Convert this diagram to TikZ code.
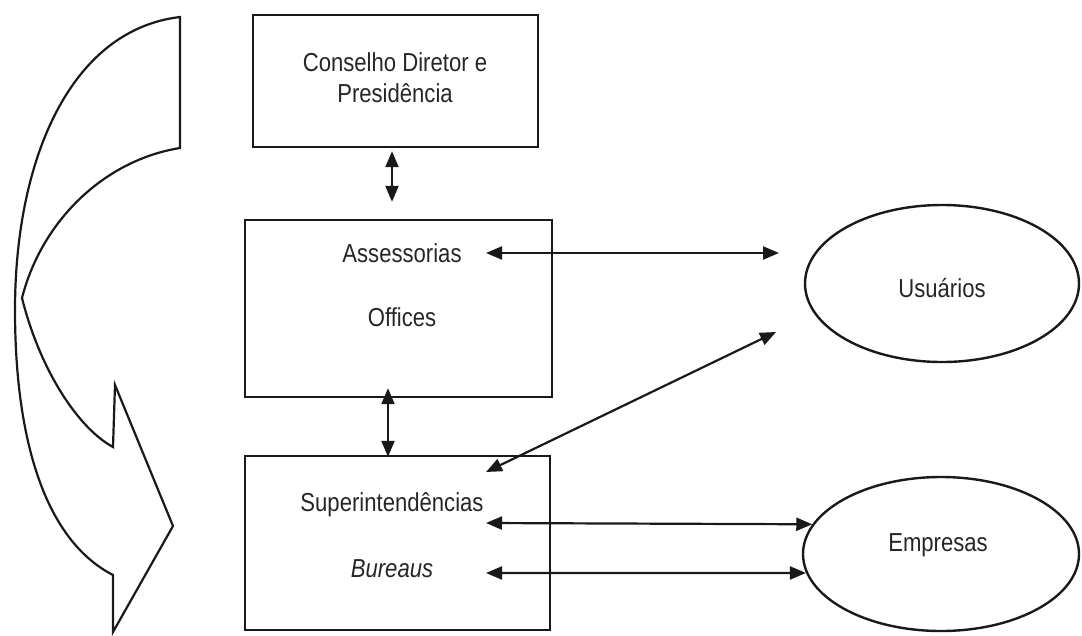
\documentclass[tikz,border=0pt]{standalone}
\usepackage{fontspec}
\setmainfont[FakeStretch=0.85]{Liberation Sans}
\usetikzlibrary{arrows.meta,shapes.geometric}
\begin{document}
\begin{tikzpicture}[x=1pt,y=-1pt,
  every node/.style={font=\fontsize{26}{31}\selectfont, text=black!85},
  box/.style={draw=black!90, line width=2.4pt, inner sep=0pt},
  oval/.style={ellipse, draw=black!90, line width=2.4pt, inner sep=0pt},
  lbl/.style={inner sep=1pt, align=center},
  dbl/.style={{Triangle[length=16pt,width=13pt]}-{Triangle[length=16pt,width=13pt]}, line width=2.2pt, draw=black!90},
  bigarrow/.style={draw=black!90, line width=2.2pt, line join=miter}
]
\useasboundingbox (0,0) rectangle (1082,635);

% boxes
\node[box, minimum width=285pt, minimum height=132pt] (b1) at (395.5,81) {};
\node[box, minimum width=307pt, minimum height=177pt] (b2) at (398.5,308.5) {};
\node[box, minimum width=305pt, minimum height=174pt] (b3) at (397.5,543) {};

% ellipses
\node[oval, minimum width=274pt, minimum height=157pt] (u) at (942,283.5) {};
\node[oval, minimum width=276pt, minimum height=154pt] (e) at (941,554) {};

% labels
\node[lbl] (t1) at (395,77.5) {Conselho Diretor e\\Presidência};
\node[lbl] (t2) at (402,253) {Assessorias};
\node[lbl] (t3) at (402,317) {Offices};
\node[lbl] (t4) at (392,505) {Superintendências};
\node[lbl] (t5) at (392,569) {\itshape Bureaus};
\node[lbl] (tu) at (942,288) {Usuários};
\node[lbl] (te) at (938,545) {Empresas};

% connector end points
\coordinate (a1s) at (486,253);
\coordinate (a1e) at (779,253);
\coordinate (a2s) at (486,472);
\coordinate (a2e) at (776,332);
\coordinate (a3s) at (486,523);
\coordinate (a4s) at (486,573);

% connectors
\draw[dbl] ([xshift=-3.5pt,yshift=-3pt]b1.south) -- ([xshift=-6.5pt,yshift=17pt]b2.north);
\draw[dbl] ([xshift=-10.5pt,yshift=10pt]b2.south) -- ([xshift=-9.5pt,yshift=-2pt]b3.north);
\draw[dbl] (a1s) -- (a1e);
\draw[dbl] (a2s) -- (a2e);
\draw[dbl] (a3s) -- (e.167);
\draw[dbl] (a4s) -- (e.188);

% big curved block arrow on the left
\draw[bigarrow] (180,17) -- (180,148)
  .. controls (105,160) and (42,220) .. (22,298)
  .. controls (40,370) and (78,428) .. (113,447)
  -- (115,385) -- (173,526) -- (113,632) -- (113,575)
  .. controls (45,540) and (15,440) .. (15,310)
  .. controls (15,160) and (70,30) .. (180,17) -- cycle;
\end{tikzpicture}
\end{document}
